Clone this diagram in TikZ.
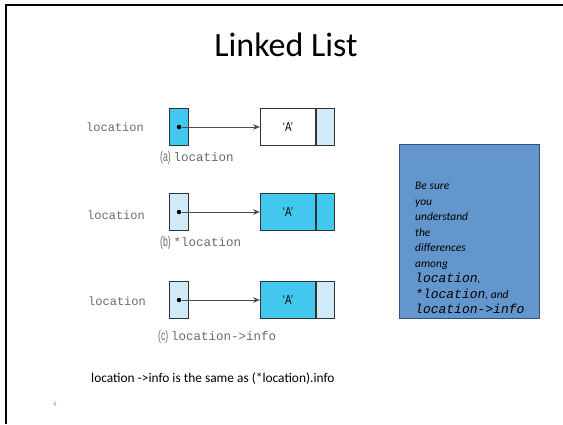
\documentclass[tikz,border=0pt]{standalone}
\usepackage{fontspec}
\setmainfont{Carlito}
\newfontfamily\monof{Liberation Mono}
\newfontfamily\narrowf{Liberation Sans}
\usetikzlibrary{arrows.meta}
\definecolor{cyanfill}{RGB}{66,200,238}
\definecolor{lightfill}{RGB}{208,234,250}
\definecolor{notefill}{RGB}{98,150,204}
\definecolor{noteedge}{RGB}{50,80,120}
\definecolor{lblgray}{RGB}{105,105,105}
\tikzset{
  cell/.style={draw=black!80, line width=1.1pt, minimum height=37pt, inner sep=0pt, anchor=west},
  ptrcell/.style={cell, minimum width=19pt},
  datacell/.style={cell, minimum width=55pt, font=\narrowf\fontsize{13}{14}\selectfont},
  linkcell/.style={cell, minimum width=18pt},
  rowlabel/.style={font=\monof\fontsize{12}{14}\selectfont, text=lblgray, anchor=west, inner sep=0pt},
  caption/.style={font=\fontsize{12.5}{14}\selectfont, text=lblgray, anchor=west, inner sep=0pt},
  ptrdot/.style={circle, fill=black, inner sep=0pt, minimum size=4.5pt},
  ptrarrow/.style={draw=black!70, line width=0.7pt, -{Stealth[length=7pt,width=5.5pt]}},
}
\newcommand{\capfig}[2]{{\narrowf\fontsize{14}{14}\selectfont\scalebox{0.62}[1]{#1}}\ {\monof #2}}
\newcommand{\achar}{\scalebox{0.75}[1]{‘A’}}
\begin{document}
\begin{tikzpicture}[x=1pt,y=-1pt]
\useasboundingbox (0,0) rectangle (563,424);
% slide frame
\draw[line width=2pt] (5,5) -- (563,5);
\draw[line width=2pt] (6,5) -- (6,424);
% title
\node[font=\fontsize{34}{38}\selectfont] (title) at (286,45) {Linked List};

% row a
\node[rowlabel] (la) at (86,127) {location};
\node[ptrcell, fill=cyanfill] (pa) at (169,127) {};
\node[datacell, fill=white] (da) at (260,127) {\achar};
\node[linkcell, fill=lightfill] (na) at (da.east) {};
\node[ptrdot] (dota) at (pa.center) {};
\draw[ptrarrow] (dota) -- (da.west);
\node[caption] (ca) at (160,158) {\capfig{(a)}{location}};

% row b
\node[rowlabel] (lb) at (87,215) {location};
\node[ptrcell, fill=lightfill] (pb) at (169,212) {};
\node[datacell, fill=cyanfill] (db) at (260,212) {\achar};
\node[linkcell, fill=cyanfill] (nb) at (db.east) {};
\node[ptrdot] (dotb) at (pb.center) {};
\draw[ptrarrow] (dotb) -- (db.west);
\node[caption] (cb) at (160,243) {\capfig{(b)}{*location}};

% row c
\node[rowlabel] (lc) at (88,301) {location};
\node[ptrcell, fill=lightfill] (pc) at (169,300) {};
\node[datacell, fill=cyanfill] (dc) at (260,300) {\achar};
\node[linkcell, fill=lightfill] (nc) at (dc.east) {};
\node[ptrdot] (dotc) at (pc.center) {};
\draw[ptrarrow] (dotc) -- (dc.west);
\node[caption] (cc) at (158,337) {\capfig{(c)}{location->info}};

% note box
\node[draw=noteedge, fill=notefill, line width=0.8pt, minimum width=140pt, minimum height=174pt, anchor=north west, inner sep=0pt] (note) at (399,144) {};
\node[anchor=north west, align=left, inner sep=0pt,
      font=\itshape\fontsize{11.5}{15.5}\selectfont] (notetext) at (415,182)
 {Be sure\\ you\\ understand\\ the\\ differences\\ among\\
  {\monof\fontsize{13}{15.5}\selectfont location},\\
  {\monof\fontsize{13}{15.5}\selectfont *location}, and\\
  {\monof\fontsize{13}{15.5}\selectfont location->info}};

% bottom text
\node[anchor=west, inner sep=0pt, font=\fontsize{13.4}{15}\selectfont] (bottom) at (91,379) {location ->info is the same as (*location).info};
\node[font=\fontsize{7}{8}\selectfont, text=black!40] (pagenum) at (55,404) {4};
\end{tikzpicture}
\end{document}
